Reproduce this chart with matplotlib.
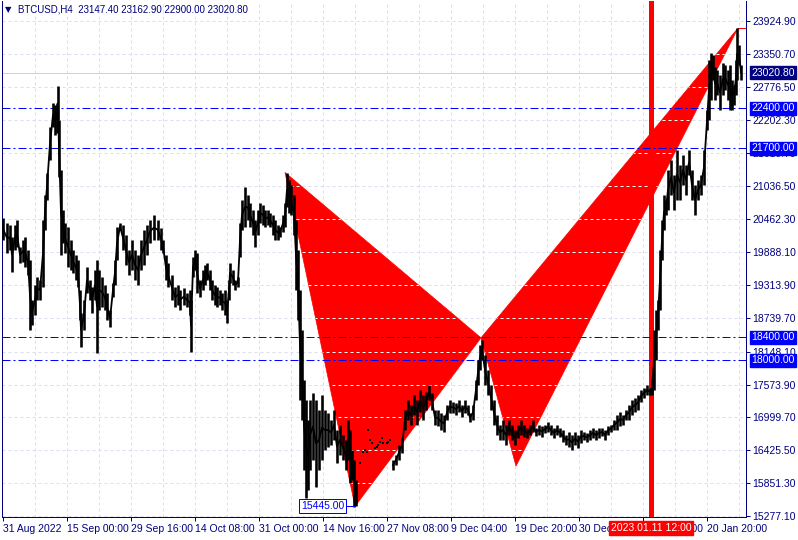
import matplotlib
matplotlib.use("Agg")
import matplotlib.pyplot as plt
from matplotlib.patches import Polygon
import numpy as np

plt.rcParams['font.family'] = ['Liberation Sans', 'DejaVu Sans']
plt.rcParams['lines.scale_dashes'] = False

# ---------------- data ----------------
symbol_title = "BTCUSD,H4  23147.40 23162.90 22900.00 23020.80"

bar_idx = [3, 7, 10, 12, 15, 17, 20, 23, 25, 28, 30, 32, 35, 37, 40, 43, 45, 47, 50, 53, 55, 57, 58, 59, 61, 63, 65, 68, 71, 73,
           76, 78, 80, 81, 84, 87, 90, 92, 95, 97, 99, 102, 105, 107, 110, 113, 115, 117, 120,
           123, 126, 129, 132, 135, 138, 141, 144, 147,
           150, 154, 158, 161, 163, 166, 168, 172, 175, 178, 180, 184, 187, 190, 191, 193, 195, 197, 200, 203, 205, 207,
           210, 212, 215, 217, 220, 222, 225, 227, 229, 230, 233, 235, 238, 240, 242, 245, 248, 250, 253, 255, 258, 260,
           263, 265, 268, 270, 273, 275, 278, 280, 283, 285, 287, 289,
           291, 294, 296, 298, 300, 302, 304, 306, 308, 310, 313, 316, 319, 322, 325, 328, 331, 334, 337, 340, 343, 346,
           348, 350, 352, 354, 356,
           393, 396, 399, 402, 405, 408, 411, 414, 417, 420, 423, 426, 429, 432, 435, 438, 441, 444, 447, 450, 453, 456,
           459, 462, 465, 468, 470, 473, 476, 478, 480, 482, 485, 488, 491, 494, 497, 500, 503, 506, 509, 512, 515, 518,
           521, 524, 527, 530, 533, 536, 539, 542, 545, 548, 551, 554, 557, 560, 563, 566, 569, 572, 575, 578, 581, 584,
           587, 590, 593, 596, 599, 602, 605, 608, 611, 614, 617, 620, 623, 626, 629, 632, 635, 638, 641, 644, 647, 650,
           652, 654, 656, 658, 660, 662, 664, 666, 668, 671, 674, 677, 680, 683, 686, 689, 692, 695, 698, 701, 704, 707,
           709, 711, 713, 715, 717, 720, 723, 725, 728, 730, 732, 734, 736, 737, 739, 741]

bar_high = [20484, 20397, 20362, 20152, 20362, 20449, 19977, 20099, 20152, 19925, 19750, 19051, 19313, 19453, 19400, 20449, 20886, 21270, 22074, 22493, 22458, 22493, 22790, 22196, 21322, 20623, 20397, 20327, 20099, 19925,
            19838, 19750, 19226, 18824, 19051, 19628, 19400, 19278, 19575, 19750, 19575, 19453, 19313, 19174, 18876, 19348, 19750, 20327, 20397,
            20362, 20187, 19925, 20099, 19925, 19838, 20099, 20274, 20362,
            20449, 20536, 20449, 20309, 20099, 19838, 19698, 19488, 19278, 19313, 19226, 19261, 19174, 19226, 19051, 19802, 19925, 19873, 19400, 19575, 19662, 19698,
            19575, 19400, 19313, 19278, 19226, 19174, 19226, 19051, 19400, 19698, 19575, 19400, 19453, 20397, 20798, 21025, 20886, 20746, 20623, 20449, 20623, 20746,
            20711, 20623, 20623, 20571, 20536, 20449, 20362, 20327, 20536, 20746, 21270, 21147,
            21060, 20886, 20449, 19925, 19226, 18527, 17653, 17304, 16955, 17304, 17426, 17304, 17129, 17391, 17129, 17076, 16955, 17129, 16780, 16867, 16692, 16605,
            16955, 16780, 16431, 16256, 15906,
            16256, 16343, 16518, 16640, 17129, 17304, 17216, 17391, 17304, 17479, 17391, 17444, 17566, 17426, 17129, 17129, 17076, 17041, 17216, 17304, 17269, 17251,
            17304, 17216, 17304, 17216, 17076, 17216, 17653, 18003, 18265, 18352, 18090, 17828, 17566, 17304, 17041, 16867, 16955, 16867, 16955, 16867, 16780, 16867,
            16955, 16867, 16815, 16867, 16955, 16815, 16867, 16850, 16867, 16920, 16867, 16815, 16867, 16815, 16780, 16692, 16745, 16692, 16745, 16692, 16780, 16745,
            16727, 16780, 16815, 16780, 16815, 16815, 16780, 16850, 16867, 16955, 17041, 17094, 17041, 17129, 17216, 17304, 17339, 17391, 17479, 17514, 17566, 17514,
            17653, 18527, 18876, 19051, 19925, 20449, 20886, 20798, 21322, 21497, 21235, 21672, 21409, 21584, 21409, 21672, 21322, 21060, 21147, 21235, 21672, 22370,
            23244, 23366, 23331, 23121, 23069, 22982, 23191, 23156, 23069, 23156, 22894, 22807, 23244, 23803, 23506, 23163]

bar_low = [20099, 19873, 19925, 19540, 19925, 19977, 19698, 19715, 19628, 19488, 18527, 18615, 18789, 19051, 19051, 19278, 20274, 20798, 21497, 22074, 21934, 21969, 22196, 21200, 19838, 20047, 19873, 19628, 19575, 19523,
           19400, 19278, 18702, 18230, 18527, 19174, 19051, 18824, 19051, 18126, 18876, 18928, 18876, 18702, 18580, 19104, 19313, 19750, 20274,
           19925, 19662, 19488, 19575, 19400, 19313, 19575, 19662, 19838,
           20047, 20099, 20099, 19925, 19873, 19400, 19278, 19051, 18928, 18964, 18876, 18964, 18928, 18789, 18143, 19453, 19575, 19174, 19104, 19226, 19313, 19400,
           19226, 19051, 18964, 18928, 18964, 18876, 18789, 18650, 19051, 19348, 19313, 19226, 19278, 19802, 20274, 20327, 20449, 20327, 20187, 19977, 20187, 20397,
           20362, 20327, 20362, 20327, 20187, 20099, 20099, 20152, 20239, 20327, 20676, 20571,
           20536, 20187, 19226, 18702, 17304, 16955, 16081, 15592, 15732, 16081, 16256, 15784, 16081, 16256, 16431, 16483, 16518, 16605, 16203, 16343, 16256, 16081,
           16256, 15854, 15906, 15434, 15445,
           16081, 16168, 16256, 16378, 16780, 16955, 16867, 17041, 16867, 17094, 16955, 17129, 17304, 17129, 16867, 16850, 16780, 16745, 16955, 17076, 17076, 17041,
           17094, 17007, 17076, 17041, 16920, 16955, 17304, 17566, 17828, 18003, 17566, 17391, 17129, 16867, 16692, 16605, 16605, 16518, 16692, 16605, 16518, 16640,
           16692, 16658, 16640, 16692, 16745, 16675, 16692, 16658, 16727, 16745, 16692, 16640, 16692, 16658, 16570, 16518, 16483, 16431, 16518, 16466, 16553, 16605,
           16570, 16605, 16640, 16605, 16640, 16675, 16605, 16692, 16745, 16780, 16780, 16850, 16867, 16955, 16955, 17041, 17094, 17129, 17269, 17339, 17391, 17391,
           17391, 17479, 18003, 18527, 18876, 19750, 20274, 20536, 20623, 20886, 20623, 20798, 20798, 21060, 20886, 21235, 20798, 20536, 20798, 20886, 21060, 22021,
           22196, 22545, 22894, 22545, 22632, 22370, 22632, 22720, 22545, 22370, 22370, 22458, 22632, 22894, 23156, 22900]

# sparse isolated ticks after the low
dot_idx = [360, 363, 365, 367, 368, 370, 372, 375, 377, 378, 380, 382, 383, 387, 388, 390]
dot_price = [16203, 16396, 16431, 16396, 16780, 16605, 16553, 16466, 16483, 16518, 16570, 16640, 16553, 16553, 16570, 16605]

# harmonic pattern points (bar index, price)
pat_idx = [285, 355, 481, 516, 738]
pat_price = [21280, 15445, 18390, 16150, 23800]

hlines_levels = [22400.0, 21700.0, 18400.0, 18000.0]
last_close = 23020.80
low_label = 15445.00
vline_idx = 651
vline_label = "2023.01.11 12:00"

ytick_vals = [15277.10, 15851.30, 16425.50, 16999.70, 17573.90, 18148.10, 18739.70, 19313.90, 19888.10,
              20462.30, 21036.50, 21610.70, 22202.30, 22776.50, 23350.70, 23924.90]
xtick_idx = [3, 67, 131, 195, 259, 323, 387, 451, 515, 579, 643, 707]
xtick_labels = ["31 Aug 2022", "15 Sep 00:00", "29 Sep 16:00", "14 Oct 08:00", "31 Oct 00:00", "14 Nov 16:00",
                "27 Nov 08:00", "9 Dec 04:00", "19 Dec 20:00", "30 Dec 12:00", "10 Jan 04:00", "20 Jan 20:00"]
xgrid_idx = list(range(35, 746, 32))

# ---------------- styling ----------------
W, H = 798, 540
NAVY = "#000080"
BLUE = "#0000FF"
RED = "#FF0000"
GRID = "#DCDCF0"
PX = 0.72  # points per pixel
FS = 7.5

fig = plt.figure(figsize=(W / 100, H / 100), dpi=100)
fig.patch.set_facecolor("white")
ax = fig.add_axes([2 / W, (H - 517) / H, 744 / W, 516 / H])
ax.set_xlim(2, 746)
ax.set_ylim(15260, 24274)

for s in ["left", "bottom", "right"]:
    ax.spines[s].set_color(NAVY)
    ax.spines[s].set_linewidth(1 * PX)
ax.spines["top"].set_visible(False)

# grid
for yv in ytick_vals:
    ax.axhline(yv, color=GRID, lw=1 * PX, dashes=(3 * PX, 3 * PX), zorder=0.5)
for xv in xgrid_idx:
    ax.axvline(xv, color=GRID, lw=1 * PX, dashes=(3 * PX, 3 * PX), zorder=0.5)

# current price line
ax.axhline(last_close, color="#D0D0DC", lw=1 * PX, zorder=0.6)

# harmonic triangles
tri1 = Polygon(list(zip(pat_idx[0:3], pat_price[0:3])), closed=True, facecolor=RED, edgecolor=RED, lw=0.5, zorder=1)
tri2 = Polygon(list(zip(pat_idx[2:5], pat_price[2:5])), closed=True, facecolor=RED, edgecolor=RED, lw=0.5, zorder=1)
ax.add_patch(tri1)
ax.add_patch(tri2)
for tri in (tri1, tri2):
    for yv in ytick_vals:
        ln = ax.axhline(yv, color="white", lw=1 * PX, dashes=(3 * PX, 3 * PX), zorder=1.1)
        ln.set_clip_path(tri)
ax.plot([pat_idx[4], 746], [pat_price[4], pat_price[4]], color=RED, lw=1 * PX, zorder=1.2, clip_on=False)

# vertical red line
ax.axvline(vline_idx, color=RED, lw=5 * PX, zorder=1.5)

# horizontal levels
for lv in hlines_levels:
    ax.axhline(lv, color=BLUE, lw=1 * PX, dashes=(8 * PX, 3 * PX, 2 * PX, 3 * PX), zorder=2)

# price bars
bx = np.array(bar_idx, dtype=float)
bh = np.array(bar_high, dtype=float)
bl = np.array(bar_low, dtype=float)
ax.vlines(bx, bl, bh, color="black", lw=2.6 * PX, zorder=3)
# connect consecutive bars (break where data is missing)
mid = (bh + bl) / 2
seg_x, seg_y = [], []
for i in range(len(bx)):
    if i > 0 and bx[i] - bx[i - 1] > 10:
        seg_x.append(np.nan); seg_y.append(np.nan)
    seg_x.append(bx[i]); seg_y.append(mid[i])
ax.plot(seg_x, seg_y, color="black", lw=1.8 * PX, zorder=3)
ax.scatter(dot_idx, dot_price, s=2.5, marker="s", color="black", lw=0, zorder=3)

# ticks
ax.yaxis.tick_right()
ax.set_yticks(ytick_vals)
ax.set_yticklabels([f"{v:.2f}" for v in ytick_vals])
ax.tick_params(axis="y", direction="out", length=3, width=1 * PX, color=NAVY, labelcolor=NAVY,
               labelsize=FS, pad=1.5)
ax.set_xticks(xtick_idx)
ax.set_xticklabels(xtick_labels, ha="left")
ax.tick_params(axis="x", direction="out", length=3, width=1 * PX, color=NAVY, labelcolor=NAVY,
               labelsize=FS, pad=2)

# highlighted right-axis labels
def right_box(val, bg):
    ax.text(751, val, f"{val:.2f}", ha="left", va="center",
            fontsize=FS, color="white", clip_on=False, zorder=10,
            bbox=dict(boxstyle="square,pad=0.13", facecolor=bg, edgecolor=bg))

right_box(last_close, NAVY)
for lv in hlines_levels:
    right_box(lv, BLUE)

# vertical line date label
ax.text(vline_idx, -0.012, vline_label, transform=ax.get_xaxis_transform(), ha="center", va="top",
        fontsize=FS, color="white", clip_on=False, zorder=10,
        bbox=dict(boxstyle="square,pad=0.2", facecolor=RED, edgecolor=RED))

# low price label
ax.plot([345, 355], [low_label, low_label], color=BLUE, lw=1 * PX, zorder=4)
ax.text(344, low_label, f"{low_label:.2f}", ha="right", va="center", fontsize=FS, color=BLUE, zorder=5,
        bbox=dict(boxstyle="square,pad=0.2", facecolor="white", edgecolor=BLUE, lw=1 * PX))

# title
fig.text(5 / W, 1 - 10 / H, "\u25BC", fontsize=6, color=NAVY, va="center", ha="left",
         family="DejaVu Sans")
fig.text(18 / W, 1 - 10 / H, symbol_title, fontsize=7, color=NAVY, va="center", ha="left")

fig.savefig("out.png", dpi=100)
